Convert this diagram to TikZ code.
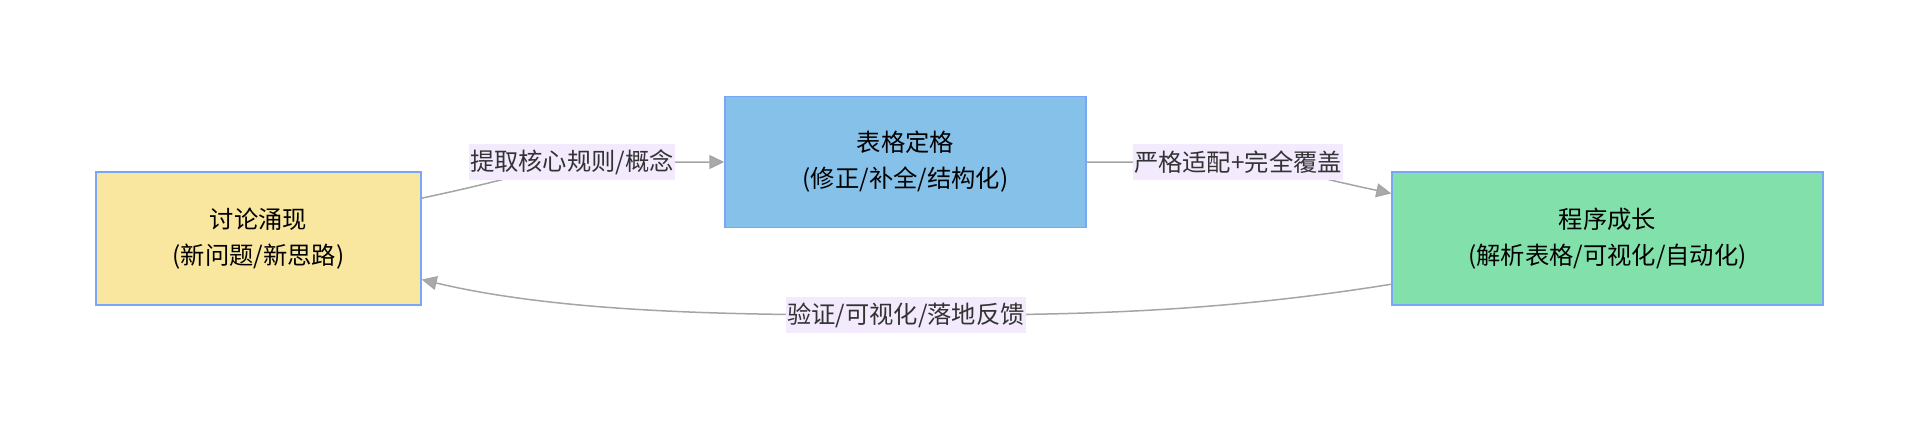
\documentclass[tikz,border=0pt]{standalone}
\usepackage{fontspec}
\setmainfont{Noto Sans CJK SC}
\usepackage{xcolor}
\usetikzlibrary{arrows.meta,calc,positioning}
\definecolor{discfill}{RGB}{249,231,159}
\definecolor{tablefill}{RGB}{133,193,233}
\definecolor{progfill}{RGB}{130,224,170}
\definecolor{boxline}{RGB}{122,166,248}
\definecolor{edgegray}{RGB}{165,165,165}
\definecolor{tipgray}{RGB}{170,170,170}
\definecolor{lblfill}{RGB}{243,234,253}
\definecolor{lbltext}{RGB}{51,51,51}
\begin{document}
\begin{tikzpicture}[x=1pt,y=-1pt,>={Triangle[length=15pt,width=14pt,fill=tipgray]},
  stage/.style={draw=boxline,line width=1.5pt,minimum height=133pt,align=center,font=\fontsize{24.3}{36}\selectfont},
  flow/.style={->,draw=edgegray,line width=1.5pt},
  lbl/.style={fill=lblfill,text=lbltext,inner xsep=1pt,minimum height=36pt,font=\fontsize{24.3}{28}\selectfont}]
  \useasboundingbox (0,0) rectangle (1920,429);
  \node[stage,fill=discfill,minimum width=325pt] (disc) at (258.5,238.5) {讨论涌现\\(新问题/新思路)};
  \node[stage,fill=tablefill,minimum width=361pt,minimum height=131pt] (table) at (905.5,162) {表格定格\\(修正/补全/结构化)};
  \node[stage,fill=progfill,minimum width=431pt] (prog) at (1607.5,238.5) {程序成长\\(解析表格/可视化/自动化)};
  \coordinate (l1) at (572,162); \coordinate (l2) at (1238,162); \coordinate (l3) at (906,315);
  % edges first, labels on top
  \draw[flow] ($(disc.north east)!0.2!(disc.south east)$) .. controls (522,177) and (562,162) .. (l1) -- (table.west);
  \draw[flow] (table.east) -- (l2) .. controls (1270,162) and (1290,172) .. ($(prog.north west)!0.165!(prog.south west)$);
  \draw[flow] ($(prog.north west)!0.84!(prog.south west)$) .. controls (1200,315) and (1050,315) .. (l3) .. controls (760,315) and (570,315) .. ($(disc.north east)!0.805!(disc.south east)$);
  \node[lbl] (rule) at (l1) {提取核心规则/概念};
  \node[lbl] (fit) at (l2) {严格适配+完全覆盖};
  \node[lbl] (back) at (l3) {验证/可视化/落地反馈};
\end{tikzpicture}
\end{document}
